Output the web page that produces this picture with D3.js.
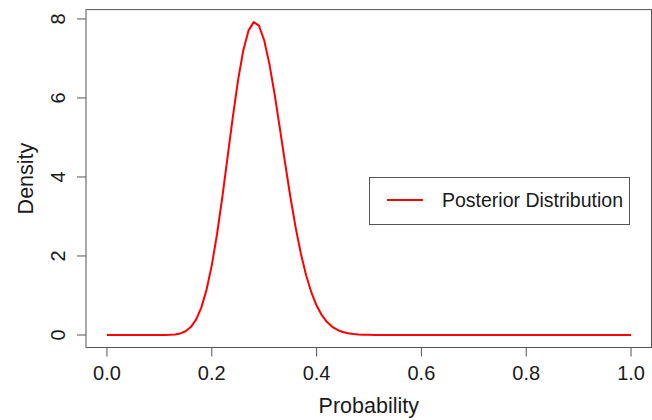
<!DOCTYPE html>
<html>
<head>
<meta charset="utf-8">
<script src="https://cdn.jsdelivr.net/npm/d3@7"></script>
<style>
  body { margin: 0; background: #fff; }
  svg { display: block; font-family: "Liberation Sans", Arial, sans-serif; }
</style>
</head>
<body>
<div id="chart"></div>
<script>
// probability grid and posterior density
const probs = [
  0.00, 0.01, 0.02, 0.03, 0.04, 0.05, 0.06, 0.07, 0.08, 0.09,
  0.10, 0.11, 0.12, 0.13, 0.14, 0.15, 0.16, 0.17, 0.18, 0.19,
  0.20, 0.21, 0.22, 0.23, 0.24, 0.25, 0.26, 0.27, 0.28, 0.29,
  0.30, 0.31, 0.32, 0.33, 0.34, 0.35, 0.36, 0.37, 0.38, 0.39,
  0.40, 0.41, 0.42, 0.43, 0.44, 0.45, 0.46, 0.47, 0.48, 0.49,
  0.50, 0.51, 0.52, 0.53, 0.54, 0.55, 0.56, 0.57, 0.58, 0.59,
  0.60, 0.61, 0.62, 0.63, 0.64, 0.65, 0.66, 0.67, 0.68, 0.69,
  0.70, 0.71, 0.72, 0.73, 0.74, 0.75, 0.76, 0.77, 0.78, 0.79,
  0.80, 0.81, 0.82, 0.83, 0.84, 0.85, 0.86, 0.87, 0.88, 0.89,
  0.90, 0.91, 0.92, 0.93, 0.94, 0.95, 0.96, 0.97, 0.98, 0.99,
  1.00]
const density = [
  0, 0, 0, 0, 0, 0, 0, 0, 0, 0,
  0, 0.001, 0.005, 0.014, 0.04, 0.094, 0.2, 0.388, 0.692, 1.144,
  1.763, 2.55, 3.477, 4.488, 5.505, 6.437, 7.195, 7.704, 7.92, 7.832,
  7.461, 6.857, 6.087, 5.225, 4.342, 3.493, 2.725, 2.061, 1.513, 1.077,
  0.745, 0.501, 0.327, 0.207, 0.127, 0.076, 0.044, 0.025, 0.014, 0.007,
  0.004, 0.002, 0.001, 0, 0, 0, 0, 0, 0, 0,
  0, 0, 0, 0, 0, 0, 0, 0, 0, 0,
  0, 0, 0, 0, 0, 0, 0, 0, 0, 0,
  0, 0, 0, 0, 0, 0, 0, 0, 0, 0,
  0, 0, 0, 0, 0, 0, 0, 0, 0, 0,
  0]
const xTicks = [0, 0.2, 0.4, 0.6, 0.8, 1.0]
const yTicks = [0, 2, 4, 6, 8]
const legendLabel = 'Posterior Distribution'

const width = 652
const height = 420
const box = { left: 86, right: 651.5, top: 9.6, bottom: 347.5 }

const svg = d3.select('#chart')
  .append('svg')
  .attr('width', width)
  .attr('height', height)

// R style 4% padding around the data range
const x = d3.scaleLinear().domain([-0.04, 1.04]).range([box.left, 652])
const y = d3.scaleLinear().domain([-0.3168, 8.2368]).range([box.bottom, box.top])

const textColor = '#1a1a1a'
const axisColor = '#555'

// x axis ticks and labels
const xAxis = svg.append('g')
xAxis.selectAll('line')
  .data(xTicks)
  .join('line')
  .attr('x1', d => x(d)).attr('x2', d => x(d))
  .attr('y1', box.bottom).attr('y2', box.bottom + 9)
  .attr('stroke', axisColor)
  .attr('stroke-width', 1)
xAxis.selectAll('text')
  .data(xTicks)
  .join('text')
  .attr('x', d => x(d))
  .attr('y', 380)
  .attr('text-anchor', 'middle')
  .attr('font-size', 20)
  .attr('fill', textColor)
  .text(d => d3.format('.1f')(d))

// y axis ticks and rotated labels
const yAxis = svg.append('g')
yAxis.selectAll('line')
  .data(yTicks)
  .join('line')
  .attr('x1', box.left - 9).attr('x2', box.left)
  .attr('y1', d => y(d)).attr('y2', d => y(d))
  .attr('stroke', axisColor)
  .attr('stroke-width', 1)
yAxis.selectAll('text')
  .data(yTicks)
  .join('text')
  .attr('transform', d => `translate(65,${y(d)}) rotate(-90)`)
  .attr('text-anchor', 'middle')
  .attr('font-size', 20)
  .attr('fill', textColor)
  .text(d => d)

// axis titles
svg.append('text')
  .attr('x', (box.left + box.right) / 2)
  .attr('y', 413)
  .attr('text-anchor', 'middle')
  .attr('font-size', 21.5)
  .attr('fill', textColor)
  .text('Probability')

svg.append('text')
  .attr('transform', `translate(33,${(box.top + box.bottom) / 2}) rotate(-90)`)
  .attr('text-anchor', 'middle')
  .attr('font-size', 21.5)
  .attr('fill', textColor)
  .text('Density')

// density curve
const line = d3.line()
  .x((d, i) => x(probs[i]))
  .y(d => y(d))

svg.append('path')
  .datum(density)
  .attr('d', line)
  .attr('fill', 'none')
  .attr('stroke', '#ff0000')
  .attr('stroke-width', 2)
  .attr('stroke-linejoin', 'round')

// plot box
svg.append('rect')
  .attr('x', box.left)
  .attr('y', box.top)
  .attr('width', box.right - box.left)
  .attr('height', box.bottom - box.top)
  .attr('fill', 'none')
  .attr('stroke', axisColor)
  .attr('stroke-width', 1)

// legend
const legend = svg.append('g')
legend.append('rect')
  .attr('x', 369.5).attr('y', 177.5)
  .attr('width', 260).attr('height', 47)
  .attr('fill', '#fff')
  .attr('stroke', axisColor)
  .attr('stroke-width', 1)
legend.append('line')
  .attr('x1', 387).attr('x2', 423)
  .attr('y1', 200).attr('y2', 200)
  .attr('stroke', '#ff0000')
  .attr('stroke-width', 2)
legend.append('text')
  .attr('x', 442)
  .attr('y', 207)
  .attr('font-size', 19.5)
  .attr('fill', textColor)
  .text(legendLabel)
</script>
</body>
</html>
